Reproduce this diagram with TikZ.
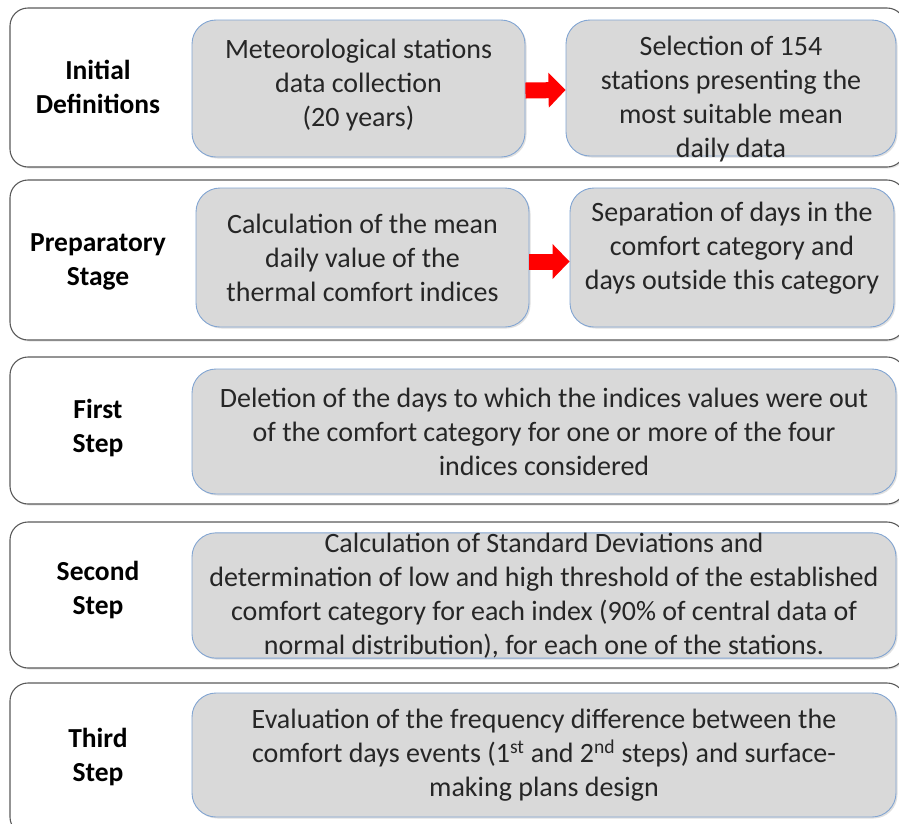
\documentclass[tikz,border=0pt]{standalone}
\usepackage{fontspec}
\setmainfont{Carlito}
\usepackage{tikz}
\usetikzlibrary{arrows.meta, shadows}
\definecolor{boxfill}{HTML}{D9D9D9}
\definecolor{boxline}{HTML}{82A5D2}
\definecolor{frameline}{HTML}{5A5A5A}

\begin{document}
\begin{tikzpicture}[x=1pt, y=-1pt,
  frame/.style={draw=frameline, line width=1.1pt, rounded corners=18pt, fill=white,
    drop shadow={opacity=0.2, shadow xshift=1.5pt, shadow yshift=-1.5pt}},
  lab/.style={font=\fontsize{27.5}{34}\selectfont\bfseries, align=center},
  box/.style={draw=boxline, line width=0.9pt, fill=boxfill, rounded corners=24pt,
    align=center, text=black!85, font=\fontsize{28}{34}\selectfont, inner sep=0pt,
    drop shadow={opacity=0.25, shadow xshift=1.5pt, shadow yshift=-1.5pt}},
  arr/.style={draw=red, line width=16pt, -{Triangle[length=17pt, width=34pt]}}
]
\clip (0,0) rectangle (899,823);

% stage frames
\node[frame, minimum width=895pt, minimum height=159pt] (f1) at (457.5,87.5) {};
\node[frame, minimum width=895pt, minimum height=160pt] (f2) at (457.5,260) {};
\node[frame, minimum width=895pt, minimum height=147pt] (f3) at (457.5,430.5) {};
\node[frame, minimum width=895pt, minimum height=146pt] (f4) at (457.5,595) {};
\node[frame, minimum width=895pt, minimum height=152pt] (f5) at (457.5,759) {};

% stage names
\node[lab] (l1) at (98,87) {Initial\\Definitions};
\node[lab] (l2) at (98,262) {Preparatory\\Stage};
\node[lab] (l3) at (98,428) {First\\Step};
\node[lab] (l4) at (98,590) {Second\\Step};
\node[lab] (l5) at (98,757) {Third\\Step};

% contents
\node[box, minimum width=333pt, minimum height=137pt] (a1) at (358.5,88.5)
  {\raisebox{3pt}[\height][\depth]{\begin{tabular}{@{}c@{}}Meteorological stations\\data collection\\(20 years)\end{tabular}}};
\node[box, minimum width=330pt, minimum height=136pt] (a2) at (731,88)
  {\raisebox{-12pt}[\height][\depth]{\begin{tabular}{@{}c@{}}Selection of 154\\stations presenting the\\most suitable mean\\daily data\end{tabular}}};
\node[box, minimum width=333pt, minimum height=139pt] (b1) at (362.5,257.5)
  {Calculation of the mean\\daily value of the\\thermal comfort indices};
\node[box, minimum width=324pt, minimum height=139pt] (b2) at (732,257.5)
  {\raisebox{9pt}[\height][\depth]{\begin{tabular}{@{}c@{}}Separation of days in the\\comfort category and\\days outside this category\end{tabular}}};
\node[box, minimum width=704pt, minimum height=125pt] (c) at (544,431.5)
  {Deletion of the days to which the indices values were out\\of the comfort category for one or more of the four\\indices considered};
\node[box, minimum width=704pt, minimum height=125pt] (d) at (544,595.5)
  {Calculation of Standard Deviations and\\determination of low and high threshold of the established\\comfort category for each index (90\% of central data of\\normal distribution), for each one of the stations.};
\node[box, minimum width=704pt, minimum height=124pt] (e) at (544,755)
  {Evaluation of the frequency difference between the\\comfort days events (1\textsuperscript{st} and 2\textsuperscript{nd} steps) and surface-\\making plans design};

\draw[arr] ([yshift=-2pt]a1.east) -- ([yshift=-2pt]a2.west);
\draw[arr] ([yshift=-4pt]b1.east) -- ([yshift=-4pt]b2.west);
\end{tikzpicture}
\end{document}
